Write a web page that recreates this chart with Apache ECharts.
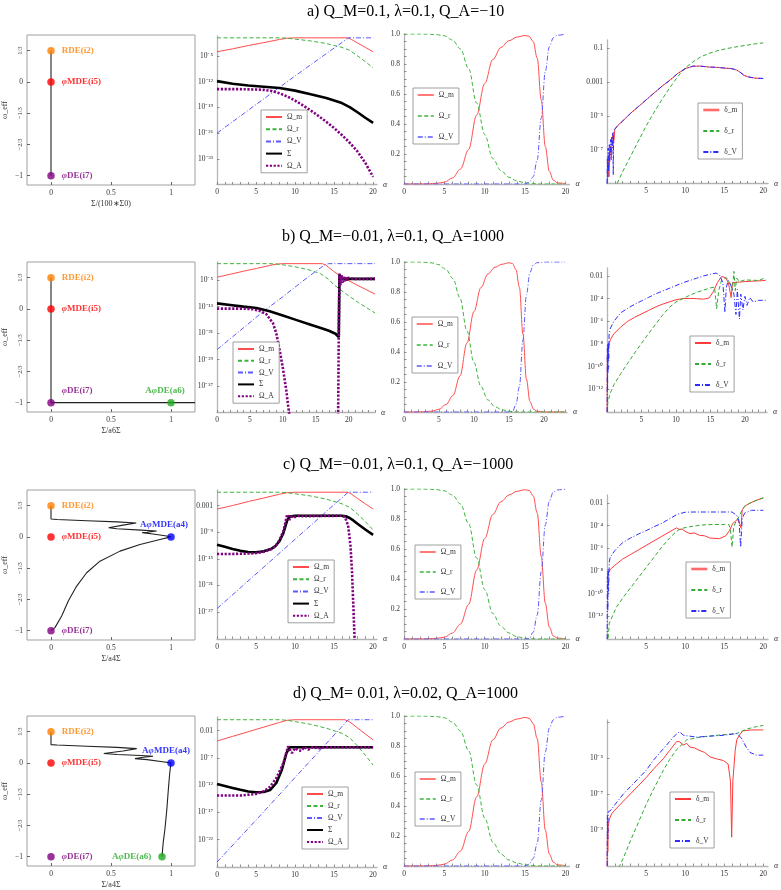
<!DOCTYPE html>
<html>
<head>
<meta charset="utf-8">
<script src="https://cdn.jsdelivr.net/npm/echarts@6/dist/echarts.min.js"></script>
<style>
  html, body { margin: 0; padding: 0; background: #fff; }
  #main { width: 781px; height: 890px; }
</style>
</head>
<body>
<div id="main"></div>
<script>
// ---- texts ----
const titleTexts = ['a) Q_M=0.1, λ=0.1, Q_A=−10', 'b) Q_M=−0.01, λ=0.1, Q_A=1000',
  'c) Q_M=−0.01, λ=0.1, Q_A=−1000', 'd) Q_M= 0.01, λ=0.02, Q_A=1000'];
const phaseXNames = ['Σ/(100∗Σ0)', 'Σ/a6Σ', 'Σ/a4Σ', 'Σ/a4Σ'];
const omegaNames = ['Ω_m', 'Ω_r', 'Ω_V', 'Σ', 'Ω_A'];
const fracNames = ['Ω_m', 'Ω_r', 'Ω_V'];
const deltaNames = ['δ_m', 'δ_r', 'δ_V'];

// ---- tick values (log panels hold log10 values) ----
const phaseXTicks = [0, 0.5, 1];
const phaseYTicks = [1 / 3, 0, -1 / 3, -2 / 3, -1];
const alphaTicks = [0, 5, 10, 15, 20];
const fracTicks = [0.2, 0.4, 0.6, 0.8, 1.0];
const omegaLogTicks = [[-5, -12, -19, -26, -33], [-5, -13, -21, -29, -37], [-3, -9, -15, -21, -27], [-2, -7, -12, -17, -22]];
const deltaLogTicks = [[-1, -3, -5, -7], [-2, -4, -6, -8, -10, -12], [-2, -4, -6, -8, -10, -12], [-5, -7, -9]];
const deltaLogMarks = [[-1, -3, -5, -7], [-2, -4, -6, -8, -10, -12], [-2, -4, -6, -8, -10, -12], [-3, -5, -7, -9]];

// ---- phase portraits: fixed points and trajectories ----
const ptNames = ['RDE(i2)', 'φMDE(i5)', 'φDE(i7)', 'AφMDE(a4)', 'AφDE(a6)'];
const ptCoords = [[0, 1 / 3], [0, 0], [0, -1], [1, 0], [1, -1]];
const ptCoordsD6 = [0.925, -1];
const rowPoints = [[0, 1, 2], [0, 1, 2, 4], [0, 1, 2, 3], [0, 1, 2, 3, 4]];

const a1_path = [[0, 1 / 3], [0, -1]];
const b1_path = [[0, 1 / 3], [0, -1], [1.2, -1]];
const c1_path = [[0, 0.333], [0, 0.19], [0.05, 0.185], [0.3, 0.172], [0.55, 0.16], [0.71, 0.148], [0.6, 0.125], [0.48, 0.097],
  [0.55, 0.087], [0.75, 0.072], [0.88, 0.062], [0.8, 0.05], [0.76, 0.045], [0.85, 0.03], [0.95, 0.012], [1, 0],
  [0.908, -0.028], [0.742, -0.082], [0.575, -0.152], [0.408, -0.259], [0.297, -0.383], [0.214, -0.525],
  [0.144, -0.684], [0.089, -0.844], [0.033, -0.968], [0, -1]];
const d1_path = [[0, 0.333], [0, 0.195], [0.05, 0.19], [0.3, 0.178], [0.55, 0.165], [0.714, 0.152], [0.6, 0.127], [0.44, 0.1],
  [0.55, 0.09], [0.75, 0.078], [0.85, 0.071], [0.77, 0.06], [0.7, 0.045], [0.8, 0.035], [0.93, 0.012], [1, 0],
  [0.99, -0.1], [0.98, -0.25], [0.965, -0.5], [0.95, -0.7], [0.935, -0.85], [0.925, -1]];

// ---- density parameters, log10 (panel 2) ----
const a2_m = [[0, -3.8], [2, -3.0], [4, -2.1], [6, -1.3], [8, -0.45], [9, -0.1], [10, 0], [16.8, 0], [17.2, -0.4], [18, -1.4], [19, -2.6], [20, -3.8]];
const a2_r = [[0, 0], [8, 0], [9, -0.1], [10, -0.35], [12, -0.85], [14, -1.55], [16, -2.6], [17, -3.4], [18, -4.9], [19, -6.5], [20, -8.2]];
const a2_V = [[0, -26], [5, -18.2], [10, -10.4], [15, -2.8], [16, -1.3], [16.8, 0], [20, 0]];
const a2_S = [[0, -11.8], [2, -12.5], [4, -13.0], [6, -13.35], [8, -13.7], [10, -14.4], [12, -15.4], [14, -16.4], [16, -17.8], [17, -18.9], [18, -20.3], [19, -21.8], [20, -23.2]];
const a2_A = [[0, -14], [3, -14], [5, -14.1], [6, -14.2], [7, -14.5], [8, -15.1], [9, -16], [10, -17.1], [11, -18.4], [12, -19.8], [13, -21.3],
  [14, -22.9], [15, -24.6], [16, -26.5], [17, -28.6], [18, -31], [19, -34.1], [20, -37.9]];

const b2_m = [[0, -4.1], [2, -3.2], [4, -2.3], [6, -1.45], [8, -0.55], [9, -0.15], [10, 0], [16, 0], [16.5, -0.4], [17, -1.2], [17.7, -2.3],
  [18.5, -3.4], [19.7, -4.8], [21, -6.2], [22.5, -7.7], [24, -9.2]];
const b2_r = [[0, 0], [8, 0], [9, -0.1], [10, -0.35], [12, -1.0], [14, -1.9], [15.7, -3.0], [17, -4.8], [17.7, -6.3], [19.7, -9.3], [21.5, -11.8], [24, -14.9]];
const b2_V = [[0, -26], [7, -14.5], [10, -10.0], [13, -5.3], [15, -2.3], [16, -0.9], [16.5, -0.2], [17, 0], [24, 0]];
const b2_S = [[0, -12], [2, -12.5], [4, -13], [6, -13.4], [8, -14.4], [10, -15.7], [12, -17], [14, -18.3], [16, -19.6], [17, -20.3], [18, -21.2],
  [18.5, -22.2], [18.6, -3.3], [18.8, -4.2], [19.2, -4.6], [24, -4.6]];
const b2_A = [[0, -13.6], [4, -13.6], [5.5, -13.8], [6.5, -14.3], [7.5, -15.3], [8.5, -18], [9, -21], [9.5, -26], [10, -31.5], [10.5, -38], [11, -46],
  [11.2, null], [18.4, -46], [18.5, -20], [18.6, -3], [18.75, -6.5], [18.9, -3.5], [19.05, -5.8], [19.2, -3.8], [19.35, -5.4], [19.5, -4.1],
  [19.7, -5.1], [19.9, -4.3], [20.2, -4.9], [20.6, -4.5], [21, -4.65], [24, -4.6]];

const c2_m = [[0, -3.8], [2, -3.0], [4, -2.1], [6, -1.3], [8, -0.45], [9, -0.1], [10, 0], [16.8, 0], [17.2, -0.4], [18, -1.4], [19, -2.6], [20, -3.8]];
const c2_r = [[0, 0], [8, 0], [9, -0.1], [10, -0.35], [12, -0.85], [14, -1.55], [16, -2.6], [17, -3.4], [18, -4.9], [19, -6.6], [20, -8.5]];
const c2_V = [[0, -26.2], [5, -18.4], [10, -10.6], [15, -2.8], [16, -1.3], [16.8, 0], [20, 0]];
const c2_S = [[0, -11.8], [1, -12.3], [2, -12.8], [3, -13.2], [4, -13.45], [5, -13.5], [6, -13.3], [7, -12.7], [7.5, -12.1], [8, -11],
  [8.5, -9.2], [9, -6.3], [9.3, -5.5], [10, -5.3], [16, -5.3], [16.5, -5.4], [17, -5.8], [17.5, -6.4], [18, -7.1], [19, -8.4], [20, -9.6]];
const c2_A = [[0, -13.9], [2, -13.9], [4, -13.8], [5, -13.7], [6, -13.4], [7, -12.8], [7.5, -12.1], [8, -10.8], [8.5, -8.8], [9, -5],
  [9.3, -6.2], [9.6, -5.4], [10, -5.6], [10.4, -5.3], [11, -5.4], [16, -5.3], [16.4, -5.6], [16.8, -7.5], [17.1, -12], [17.3, -18],
  [17.5, -27], [17.65, -34]];

const d2_m = [[0, -3.9], [2, -3.05], [4, -2.2], [6, -1.35], [8, -0.5], [9, -0.1], [10, 0], [16.4, 0], [17, -0.4], [18, -1.5], [19, -2.6], [20, -3.7]];
const d2_r = [[0, 0], [8, 0], [9, -0.1], [10, -0.35], [12, -0.85], [14, -1.55], [16, -2.5], [17, -3.3], [18, -4.8], [19, -6.5], [20, -8.3]];
const d2_V = [[0, -26.1], [5, -18.4], [10, -10.6], [15, -2.8], [16, -1.3], [16.8, 0], [20, 0]];
const d2_S = [[0, -11.8], [1, -12.15], [2, -12.5], [3, -12.85], [4, -13.15], [5, -13.3], [6, -13.25], [6.8, -12.9], [7.6, -11.6],
  [8.3, -9.2], [8.9, -6.1], [9.3, -5.05], [10, -5.05], [20, -5.05]];
const d2_A = [[0, -13.9], [3, -13.9], [5, -13.6], [6, -13.1], [6.8, -12.3], [7.6, -10.7], [8.5, -8], [9.1, -4.9], [9.6, -6.1], [10, -5.2],
  [10.4, -5.6], [10.8, -5.7], [11.2, -5.0], [11.7, -5.5], [12.2, -5.05], [13, -5.2], [14, -5.05], [20, -5.05]];

// ---- density parameters, linear (panel 3) ----
const a3_m = [[0, 0], [2, 0], [3, 0.001], [4, 0.004], [5, 0.012], [6, 0.04], [7, 0.1], [8, 0.23], [9, 0.46], [10, 0.67], [11, 0.83], [12, 0.91],
  [13, 0.955], [14, 0.98], [15, 0.99], [15.5, 0.985], [16, 0.95], [16.5, 0.84], [17, 0.56], [17.5, 0.25], [18, 0.085], [18.5, 0.025], [19, 0.008], [20, 0.002]];
const a3_r = [[0, 1], [2, 1], [3, 0.999], [4, 0.996], [5, 0.988], [6, 0.96], [7, 0.9], [8, 0.77], [9, 0.54], [10, 0.33], [11, 0.17], [12, 0.09],
  [13, 0.045], [14, 0.02], [15, 0.008], [16, 0.002], [17, 0], [20, 0]];
const a3_V = [[0, 0], [15, 0], [15.5, 0.011], [16, 0.048], [16.5, 0.16], [17, 0.44], [17.5, 0.75], [18, 0.915], [18.5, 0.975], [19, 0.992], [20, 0.998]];

const b3_m = [[0, 0], [2, 0], [3, 0.002], [4, 0.006], [5, 0.018], [6, 0.05], [7, 0.11], [8, 0.24], [9, 0.46], [10, 0.67], [11, 0.83], [12, 0.92],
  [13, 0.965], [14, 0.985], [15, 0.995], [15.5, 0.99], [16, 0.95], [16.5, 0.83], [17, 0.52], [17.5, 0.22], [18, 0.07], [18.5, 0.02], [19, 0.005], [20, 0], [23, 0]];
const b3_r = [[0, 1], [2, 1], [3, 0.998], [4, 0.994], [5, 0.982], [6, 0.95], [7, 0.89], [8, 0.76], [9, 0.54], [10, 0.33], [11, 0.17], [12, 0.08],
  [13, 0.035], [14, 0.015], [15, 0.005], [16, 0.001], [17, 0], [23, 0]];
const b3_V = [[0, 0], [15.5, 0], [16, 0.05], [16.5, 0.17], [17, 0.48], [17.5, 0.78], [18, 0.93], [18.5, 0.98], [19, 0.995], [20, 1], [23, 1]];

const c3_m = [[0, 0], [2, 0], [3, 0.001], [4, 0.004], [5, 0.012], [6, 0.04], [7, 0.1], [8, 0.23], [9, 0.46], [10, 0.67], [11, 0.83], [12, 0.915],
  [13, 0.96], [14, 0.985], [15, 0.995], [15.5, 0.99], [16, 0.955], [16.5, 0.84], [17, 0.55], [17.5, 0.24], [18, 0.08], [18.5, 0.02], [19, 0.006], [20, 0.001]];
const c3_r = [[0, 1], [2, 1], [3, 0.999], [4, 0.996], [5, 0.988], [6, 0.96], [7, 0.9], [8, 0.77], [9, 0.54], [10, 0.33], [11, 0.17], [12, 0.085],
  [13, 0.04], [14, 0.015], [15, 0.005], [16, 0.001], [17, 0], [20, 0]];
const c3_V = [[0, 0], [15.5, 0], [16, 0.045], [16.5, 0.16], [17, 0.45], [17.5, 0.76], [18, 0.92], [18.5, 0.98], [19, 0.994], [20, 0.999]];

const d3_m = [[0, 0], [2, 0], [3, 0.001], [4, 0.004], [5, 0.012], [6, 0.04], [7, 0.1], [8, 0.23], [9, 0.46], [10, 0.68], [11, 0.84], [12, 0.92],
  [13, 0.96], [14, 0.98], [15, 0.99], [15.5, 0.985], [16, 0.95], [16.5, 0.85], [17, 0.56], [17.5, 0.24], [18, 0.08], [18.5, 0.025], [19, 0.008], [20, 0.002]];
const d3_r = [[0, 1], [2, 1], [3, 0.999], [4, 0.996], [5, 0.988], [6, 0.96], [7, 0.9], [8, 0.77], [9, 0.54], [10, 0.32], [11, 0.16], [12, 0.08],
  [13, 0.04], [14, 0.02], [15, 0.008], [16, 0.002], [17, 0], [20, 0]];
const d3_V = [[0, 0], [15, 0], [15.5, 0.012], [16, 0.05], [16.5, 0.15], [17, 0.44], [17.5, 0.76], [18, 0.92], [18.5, 0.975], [19, 0.992], [20, 0.998]];

// ---- perturbations, log10 (panel 4) ----
const a4_m = [[0.05, -9], [0.15, -7.6], [0.25, -8.6], [0.35, -7.2], [0.45, -6.8], [0.55, -7.6], [0.65, -6.4], [0.75, -6.1], [0.85, -6.6], [1, -5.8],
  [1.5, -5.5], [2, -5.3], [3, -4.85], [4, -4.45], [5, -4.05], [6, -3.65], [7, -3.25], [8, -2.9], [9, -2.5], [10, -2.2], [11, -2.05], [12, -2.05],
  [13, -2.1], [14, -2.12], [15, -2.16], [16, -2.2], [16.6, -2.28], [17, -2.4], [17.5, -2.58], [18, -2.68], [19, -2.76], [20, -2.78]];
const a4_r = [[1.3, -9], [2, -8.3], [3, -7.4], [4, -6.5], [5, -5.6], [6, -4.8], [7, -4.05], [8, -3.35], [9, -2.7], [10, -2.15], [11, -1.8],
  [12, -1.5], [13, -1.3], [14, -1.15], [15, -1.04], [16, -0.95], [17, -0.87], [18, -0.8], [19, -0.73], [20, -0.67]];
const a4_V = [[0, -9], [0.05, -7.5], [0.1, -8.6], [0.15, -6.9], [0.2, -8.3], [0.3, -6.7], [0.35, -7.7], [0.45, -6.4], [0.5, -7.3], [0.6, -6.2],
  [0.7, -6.9], [0.75, -6.0], [0.8, -8.5], [0.85, -6.0], [0.95, -5.8], [1.1, -5.9], [1.3, -5.6], [1.5, -5.5], [2, -5.3], [3, -4.85], [4, -4.45],
  [5, -4.05], [6, -3.65], [7, -3.25], [8, -2.9], [9, -2.5], [10, -2.2], [11, -2.05], [12, -2.05], [13, -2.1], [14, -2.12], [15, -2.16],
  [16, -2.2], [16.6, -2.28], [17, -2.4], [17.5, -2.58], [18, -2.68], [19, -2.76], [20, -2.78]];

const b4_m = [[0.02, -14], [0.05, -9.2], [0.1, -8.5], [0.5, -7.6], [1, -7.1], [2, -6.5], [3, -6.0], [4, -5.65], [5, -5.35], [6, -5.05], [7, -4.75],
  [8, -4.5], [9, -4.3], [10, -4.1], [11, -4.0], [12, -3.98], [13, -4.0], [14, -4.05], [14.8, -3.95], [15.4, -3.4], [16, -2.6], [16.6, -2.05],
  [17.2, -2.15], [17.6, -2.6], [18, -3.9], [18.2, -2.6], [19, -2.55], [20, -2.5], [23, -2.4]];
const b4_r = [[0.05, -14], [0.1, -13.2], [0.5, -12.3], [1, -11.6], [2, -10.6], [3, -9.7], [4, -8.8], [5, -7.95], [6, -7.1], [7, -6.3], [8, -5.5],
  [9, -4.8], [10, -4.3], [11, -4.0], [12, -3.7], [13, -3.45], [14, -3.25], [15, -3.05], [15.6, -3.0], [15.9, -4.9], [16.2, -3.3], [16.6, -2.4],
  [17.3, -2.15], [17.8, -2.6], [18.2, -3.2], [18.4, -1.6], [18.6, -3.3], [18.8, -2.2], [19.2, -2.5], [20, -2.35], [22, -2.4], [22.8, -2.2], [23, -2.35]];
const b4_V = [[0.02, -14], [0.05, -8.4], [0.08, -12], [0.12, -8], [0.16, -10.5], [0.2, -7.8], [0.25, -9.5], [0.3, -7.2], [0.5, -6.6], [1, -6.0],
  [2, -5.25], [3, -4.85], [4, -4.5], [5, -4.2], [6, -3.9], [7, -3.6], [8, -3.35], [9, -3.1], [10, -2.85], [11, -2.6], [12, -2.4], [13, -2.2],
  [14, -2.0], [15, -1.85], [15.8, -1.75], [16.3, -1.9], [16.8, -2.6], [17.1, -5.2], [17.3, -3.0], [17.6, -2.4], [18, -2.9], [18.4, -3.6],
  [18.7, -5.4], [18.9, -3.2], [19.2, -5.8], [19.4, -3.6], [19.7, -5.0], [20, -3.8], [20.3, -4.6], [20.7, -3.9], [21.2, -4.3], [22, -4.15], [23, -4.15]];

const c4_m = [[0.05, -9], [0.1, -8.2], [0.5, -7.8], [1, -7.5], [2, -6.95], [3, -6.55], [4, -6.15], [5, -5.75], [6, -5.35], [7, -4.95], [8, -4.55],
  [8.9, -4.2], [9.3, -4.35], [9.6, -4.3], [10, -4.5], [10.6, -4.7], [11.2, -4.65], [11.8, -4.85], [12.5, -4.9], [13.2, -5.1], [14.4, -5.15],
  [15.2, -4.9], [15.7, -4.4], [16.1, -3.8], [16.7, -3.45], [17, -3.9], [17.15, -4.2], [17.3, -2.6], [17.6, -2.3], [18.2, -2.05], [19, -1.8], [20, -1.55]];
const c4_r = [[0.08, -14.5], [0.3, -12.6], [1.2, -11.2], [2.1, -10.3], [3, -9.5], [4, -8.6], [5, -7.7], [6, -6.8], [7, -5.9], [8, -5.1], [8.9, -4.5],
  [9.5, -4.25], [10.6, -4.1], [12, -3.95], [13.5, -3.9], [15, -3.9], [15.6, -3.9], [15.8, -4.4], [16, -5.9], [16.2, -4.2], [16.5, -3.6],
  [16.9, -3.2], [17.3, -2.6], [17.6, -2.3], [18.2, -2.05], [19, -1.8], [20, -1.55]];
const c4_V = [[0.02, -14], [0.05, -8.5], [0.1, -11.5], [0.15, -7.8], [0.2, -9.8], [0.3, -7.2], [0.4, -6.8], [1, -6.2], [2, -5.5], [3, -5.1],
  [4, -4.75], [5, -4.45], [6, -4.1], [7, -3.8], [8, -3.4], [9, -3.0], [10, -2.82], [11, -2.8], [12, -2.8], [14, -2.8], [16, -2.8], [16.6, -3.1],
  [16.9, -3.6], [17.1, -5.9], [17.3, -3.4], [17.6, -2.9], [18.5, -2.65], [20, -2.65]];

const d4_m = [[0.02, -11], [0.05, -9.3], [0.1, -10.2], [0.15, -8.8], [0.3, -8.4], [0.6, -8.1], [1, -7.9], [2.1, -7.4], [3, -7.0], [4, -6.55],
  [5, -6.1], [6, -5.6], [7.2, -5.05], [8, -4.6], [8.9, -4.1], [9.3, -4.1], [9.7, -4.3], [10.2, -4.2], [10.6, -4.4], [11.2, -4.45], [11.9, -4.6],
  [12.5, -4.7], [13.2, -4.95], [14, -5.05], [14.9, -5.15], [15.5, -5.35], [15.8, -6.3], [15.95, -9.4], [16.1, -6.3], [16.4, -4.6], [16.6, -4.0],
  [17, -3.7], [17.4, -3.5], [18.5, -3.45], [20, -3.45]];
const d4_r = [[1.5, -11.1], [2.1, -10.55], [3, -9.6], [4, -8.6], [5, -7.6], [6, -6.7], [7.2, -5.7], [8, -5.1], [8.9, -4.55], [10.2, -4.0],
  [11.9, -3.85], [14, -3.75], [16.6, -3.65], [17.9, -3.4], [19, -3.28], [20, -3.2]];
const d4_V = [[0.02, -11], [0.05, -8.2], [0.1, -9.5], [0.15, -8.0], [0.3, -8.1], [0.5, -7.9], [1, -7.6], [2.1, -7.0], [3, -6.6], [4, -6.15],
  [5, -5.7], [6, -5.1], [7.2, -4.5], [8, -4.1], [8.6, -3.8], [9.25, -3.55], [9.8, -3.75], [11.5, -3.85], [13, -3.8], [14.9, -3.75], [16.6, -3.65],
  [17.2, -3.9], [17.8, -4.4], [18.3, -4.7], [19.1, -4.85], [20, -4.85]];

const phasePaths = [a1_path, b1_path, c1_path, d1_path];
const omegaSets = [[a2_m, a2_r, a2_V, a2_S, a2_A], [b2_m, b2_r, b2_V, b2_S, b2_A], [c2_m, c2_r, c2_V, c2_S, c2_A], [d2_m, d2_r, d2_V, d2_S, d2_A]];
const fracSets = [[a3_m, a3_r, a3_V], [b3_m, b3_r, b3_V], [c3_m, c3_r, c3_V], [d3_m, d3_r, d3_V]];
const deltaSets = [[a4_m, a4_r, a4_V], [b4_m, b4_r, b4_V], [c4_m, c4_r, c4_V], [d4_m, d4_r, d4_V]];

// ---- layout / styles ----
const FONT = '"Liberation Serif", "Times New Roman", serif';
const LAYOUT = [
  [[27, 35, 168, 150], [217, 36, 160, 148.5], [404, 34, 165.5, 150], [607, 40, 161, 143.5]],
  [[27, 262, 168, 150], [217, 262, 158, 150.5], [404, 262, 163, 150], [607, 268, 160, 144]],
  [[27, 490, 168, 150], [217, 490, 160, 148.8], [404, 489, 165.5, 150], [607, 495, 161, 144]],
  [[27, 716, 168, 150], [217, 717, 160, 150], [404, 716, 165.5, 150], [607, 720, 161, 146]]
];
const XMAX = [[20.5, 20.5, 20.6], [24, 23.3, 23.2], [20.5, 20.5, 20.6], [20.5, 20.5, 20.6]];
const YLOG2 = [[-40, 0.5], [-45, 0.5], [-33, 0.5], [-27, 0.5]];
const YLOG4 = [[-9, -0.5], [-14, -1.3], [-14, -1.3], [-11, -2.9]];
const TITLE_POS = [[307, 4], [282, 229], [283, 457], [293, 686]];
const LEG = [
  [[261, 110, 4.2], [413, 88, 13], [698, 103, 13]],
  [[233, 342, 3.8], [412, 317, 13], [690, 336, 13]],
  [[288, 560, 4.2], [415, 545, 12], [686, 562, 13]],
  [[302, 787, 4], [415, 772, 12], [670, 792, 13]]
];
const THICK_DM_LEGEND = [true, false, true, false];
const STYLE = {
  'Ω_m': { color: '#ff4d4d', width: 1, type: 'solid' },
  'Ω_r': { color: '#3cb43c', width: 1, type: [4, 2.5] },
  'Ω_V': { color: '#5a5aff', width: 1, type: [5, 2, 1, 2] },
  'Σ': { color: '#000000', width: 2.6, type: 'solid' },
  'Ω_A': { color: '#800080', width: 2.6, type: [2.2, 1.6] },
  'δ_m': { color: '#ff3a3a', width: 1, type: 'solid' },
  'δ_r': { color: '#33aa33', width: 1, type: [4, 2.5] },
  'δ_V': { color: '#2d2dff', width: 1, type: [5, 2, 1, 2] }
};
const PT_COLORS = ['#ff8000', '#ff0000', '#800080', '#0000ff', '#22aa22'];
// label placement per row / point index
const PT_LABEL = {
  '1-2': { position: 'right', distance: 7, offset: [0, -12] },
  '1-4': { position: 'top', distance: 4, offset: [-6, 0] },
  '2-3': { position: 'top', distance: 4, offset: [-7, 0] },
  '3-3': { position: 'top', distance: 4, offset: [-5, 0] },
  '3-4': { position: 'left', distance: 7 }
};

const SUP = { '-': '⁻', '0': '⁰', '1': '¹', '2': '²', '3': '³', '4': '⁴', '5': '⁵', '6': '⁶', '7': '⁷', '8': '⁸', '9': '⁹' };
function logFmt(v) {
  const e = Math.round(v);
  if (e === 0) return '1';
  if (e === -1) return '0.1';
  if (e === -2) return '0.01';
  if (e === -3) return '0.001';
  return '10' + String(e).split('').map(c => SUP[c]).join('');
}
function fracFmt(v) {
  const k = Math.round(v * 3);
  return (k < 0 ? '−' : '') + Math.abs(k) + '/3';
}

const labelStyle = { fontFamily: FONT, fontSize: 7.5, color: '#333' };
const axisLineStyle = { show: true, onZero: false, lineStyle: { color: '#b4b4b4', width: 1.3 } };
function ints(max) { const a = []; for (let i = 0; i <= Math.floor(max); i++) a.push(i); return a; }
function steps(from, to, st) { const a = []; for (let v = from; v <= to + 1e-9; v += st) a.push(+v.toFixed(4)); return a; }

const grids = [], xAxes = [], yAxes = [], series = [], legends = [], titles = [];

for (let r = 0; r < 4; r++) {
  titles.push({
    text: titleTexts[r], left: TITLE_POS[r][0], top: TITLE_POS[r][1], padding: 0,
    textStyle: { fontFamily: FONT, fontSize: 16, fontWeight: 'normal', color: '#000' }
  });

  // --- panel 1: phase portrait ---
  let b = LAYOUT[r][0];
  grids.push({ left: b[0], top: b[1], width: b[2], height: b[3], show: true, borderColor: '#a0a0a0', borderWidth: 1 });
  let g = grids.length - 1;
  xAxes.push({
    type: 'value', gridIndex: g, min: -0.2, max: 1.2, position: 'bottom',
    axisLine: { show: false, onZero: false }, splitLine: { show: false },
    axisTick: { show: true, inside: true, length: 3, customValues: phaseXTicks, lineStyle: { color: '#666' } },
    axisLabel: Object.assign({ customValues: phaseXTicks, margin: 4, formatter: v => String(v) }, labelStyle),
    name: phaseXNames[r], nameLocation: 'middle', nameGap: 15,
    nameTextStyle: { fontFamily: FONT, fontSize: 8, color: '#333' }
  });
  const px = xAxes.length - 1;
  yAxes.push({
    type: 'value', gridIndex: g, min: -1.1, max: 0.5, position: 'left',
    axisLine: { show: false, onZero: false }, splitLine: { show: false },
    axisTick: { show: true, inside: true, length: 3, customValues: phaseYTicks, lineStyle: { color: '#666' } },
    axisLabel: Object.assign({ customValues: [0, -1], margin: 4, formatter: v => (v < 0 ? '−1' : '0') }, labelStyle),
    name: 'ω_eff', nameLocation: 'middle', nameGap: 18, nameRotate: 90,
    nameTextStyle: { fontFamily: FONT, fontSize: 8, color: '#333' }
  });
  const py = yAxes.length - 1;
  yAxes.push({
    type: 'value', gridIndex: g, min: -1.1, max: 0.5, position: 'left', offset: 0,
    axisLine: { show: false, onZero: false }, splitLine: { show: false }, axisTick: { show: false },
    axisLabel: Object.assign({ customValues: [1 / 3, -1 / 3, -2 / 3], margin: 3, rotate: 90, formatter: fracFmt }, labelStyle, { fontSize: 6.5 })
  });
  series.push({
    type: 'line', xAxisIndex: px, yAxisIndex: py, data: phasePaths[r], symbol: 'none', silent: true,
    lineStyle: { color: '#222', width: 1.1 }, z: 2
  });
  const pts = rowPoints[r].map(k => {
    const coord = (r === 3 && k === 4) ? ptCoordsD6 : ptCoords[k];
    const place = PT_LABEL[r + '-' + k] || { position: 'right', distance: 7 };
    return {
      value: coord, name: ptNames[k], itemStyle: { color: PT_COLORS[k] },
      label: Object.assign({ color: PT_COLORS[k] }, place)
    };
  });
  series.push({
    type: 'scatter', xAxisIndex: px, yAxisIndex: py, data: pts, symbolSize: 7.5, silent: true, z: 5,
    label: {
      show: true, fontFamily: FONT, fontSize: 9, fontWeight: 'bold',
      formatter: p => p.name.replace('φ', '{i|φ}'),
      rich: { i: { fontStyle: 'italic', fontWeight: 'bold', fontFamily: FONT, fontSize: 9 } }
    }
  });

  // --- panels 2..4 ---
  const specs = [
    { sets: omegaSets[r], names: omegaNames, y: YLOG2[r], ticks: omegaLogTicks[r], marks: omegaLogTicks[r], fmt: logFmt, xl: alphaTicks, smooth: false },
    { sets: fracSets[r], names: fracNames, y: [0, 1], ticks: fracTicks, marks: steps(0.05, 1, 0.05), fmt: v => v.toFixed(1), xl: alphaTicks, smooth: 0.35 },
    { sets: deltaSets[r], names: deltaNames, y: YLOG4[r], ticks: deltaLogTicks[r], marks: deltaLogMarks[r], fmt: logFmt, xl: [5, 10, 15, 20], smooth: false }
  ];
  specs.forEach((sp, i) => {
    const bx = LAYOUT[r][i + 1];
    grids.push({ left: bx[0], top: bx[1], width: bx[2], height: bx[3] });
    const gi = grids.length - 1;
    const xmax = XMAX[r][i];
    xAxes.push({
      type: 'value', gridIndex: gi, min: 0, max: xmax, position: 'bottom',
      axisLine: axisLineStyle, splitLine: { show: false },
      axisTick: { show: true, inside: true, length: 2.5, customValues: ints(xmax), lineStyle: { color: '#777', width: 0.8 } },
      axisLabel: Object.assign({ customValues: sp.xl, margin: 4, formatter: v => String(v) }, labelStyle),
      name: 'α', nameLocation: 'end', nameGap: 6,
      nameTextStyle: { fontFamily: FONT, fontSize: 8, fontStyle: 'italic', color: '#333' }
    });
    const xi = xAxes.length - 1;
    yAxes.push({
      type: 'value', gridIndex: gi, min: sp.y[0], max: sp.y[1], position: 'left',
      axisLine: axisLineStyle, splitLine: { show: false },
      axisTick: { show: true, inside: true, length: 2.5, customValues: sp.marks, lineStyle: { color: '#777', width: 0.8 } },
      axisLabel: Object.assign({ customValues: sp.ticks, margin: 4, formatter: sp.fmt }, labelStyle)
    });
    const yi = yAxes.length - 1;
    sp.sets.forEach((d, k) => {
      const st = STYLE[sp.names[k]];
      series.push({
        type: 'line', name: sp.names[k], xAxisIndex: xi, yAxisIndex: yi, data: d,
        symbol: 'none', showSymbol: false, silent: true, connectNulls: false,
        smooth: sp.smooth, smoothMonotone: 'x',
        itemStyle: { color: st.color },
        lineStyle: { color: st.color, width: st.width, type: st.type, cap: 'butt' }
      });
    });
    const lg = LEG[r][i];
    const legData = sp.names.map(n => {
      const item = { name: n };
      if (i === 1) item.lineStyle = { width: 1.5 };
      if (i === 2 && n === 'δ_m' && THICK_DM_LEGEND[r]) item.lineStyle = { width: 2.6, color: '#ff6a6a' };
      return item;
    });
    legends.push({
      data: legData, orient: 'vertical', left: lg[0], top: lg[1], itemGap: lg[2],
      itemWidth: 16, itemHeight: 8, padding: [3, 5, 3, 4], selectedMode: false,
      itemStyle: { opacity: 0 },
      borderColor: '#888', borderWidth: 0.8, backgroundColor: '#fff', borderRadius: 0,
      textStyle: { fontFamily: FONT, fontSize: 7.5, color: '#333' }
    });
  });
}

const chart = echarts.init(document.getElementById('main'), null, { renderer: 'canvas' });
chart.setOption({
  animation: false,
  backgroundColor: '#fff',
  title: titles,
  grid: grids,
  xAxis: xAxes,
  yAxis: yAxes,
  legend: legends,
  series: series
});
</script>
</body>
</html>
